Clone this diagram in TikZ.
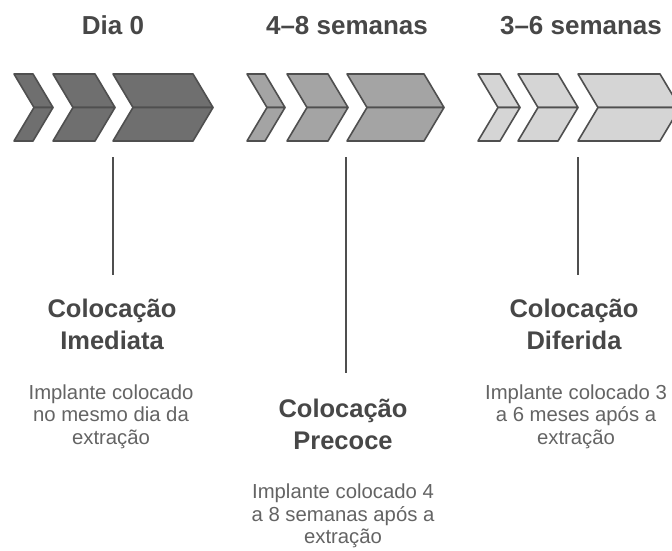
\documentclass[tikz,border=0pt]{standalone}
\usepackage{fontspec}
\setmainfont{Liberation Sans}
\definecolor{gOne}{HTML}{6F6F6F}
\definecolor{gTwo}{HTML}{A4A4A4}
\definecolor{gThree}{HTML}{D5D5D5}
\definecolor{edgec}{HTML}{4F4F4F}
\definecolor{headc}{HTML}{474747}
\definecolor{bodyc}{HTML}{646464}
\newcommand\chevronpair[3]{%
  \filldraw[chev, fill=#3] (#1,74) -- (#2,74) -- (#2+20,107.5) -- (#1+20,107.5) -- cycle;
  \filldraw[chev, fill=#3] (#1+20,107.5) -- (#2+20,107.5) -- (#2,141) -- (#1,141) -- cycle;}
\begin{document}
\begin{tikzpicture}[x=1pt,y=-1pt,
  chev/.style={draw=edgec, line width=1.6pt, line join=round},
  stem/.style={draw=edgec, line width=2pt},
  titletext/.style={anchor=base, inner sep=0pt, text=headc, font=\fontsize{26}{30}\selectfont\bfseries},
  headtext/.style={anchor=base, inner sep=0pt, text=headc, font=\fontsize{25.5}{30}\selectfont\bfseries},
  bodytext/.style={anchor=base, inner sep=0pt, text=bodyc, font=\fontsize{20.3}{24}\selectfont}]
\useasboundingbox (0,0) rectangle (672,550);
\fill[white] (0,0) rectangle (672,550);
\begin{scope}
  \clip (0,0) rectangle (672,550);
  \chevronpair{14}{33}{gOne}
  \chevronpair{53}{95}{gOne}
  \chevronpair{113}{193}{gOne}
  \chevronpair{247}{265}{gTwo}
  \chevronpair{287}{328}{gTwo}
  \chevronpair{347}{424}{gTwo}
  \chevronpair{478}{500}{gThree}
  \chevronpair{518}{558}{gThree}
  \chevronpair{578}{660}{gThree}
\end{scope}
% titles
\node[titletext] (t1) at (113,34) {Dia 0};
\node[titletext] (t2) at (347,34) {4–8 semanas};
\node[titletext] (t3) at (581,34) {3–6 semanas};
% stems
\coordinate (s1) at (113.3,157);
\coordinate (e1) at (113.3,275);
\coordinate (s2) at (345.7,157);
\coordinate (e2) at (345.7,373);
\coordinate (s3) at (578.3,157);
\coordinate (e3) at (578.3,275);
\draw[stem] (s1) -- (e1);
\draw[stem] (s2) -- (e2);
\draw[stem] (s3) -- (e3);
% left block
\node[headtext] (h1a) at (112,317) {Colocação};
\node[headtext] (h1b) at (112,349) {Imediata};
\node[bodytext] (b1a) at (111,399) {Implante colocado};
\node[bodytext] (b1b) at (111,421.5) {no mesmo dia da};
\node[bodytext] (b1c) at (111,444) {extração};
% middle block
\node[headtext] (h2a) at (343,417) {Colocação};
\node[headtext] (h2b) at (343,449) {Precoce};
\node[bodytext] (b2a) at (343,498.5) {Implante colocado 4};
\node[bodytext] (b2b) at (343,521) {a 8 semanas após a};
\node[bodytext] (b2c) at (343,543.5) {extração};
% right block
\node[headtext] (h3a) at (574,317) {Colocação};
\node[headtext] (h3b) at (574,349) {Diferida};
\node[bodytext] (b3a) at (576,399) {Implante colocado 3};
\node[bodytext] (b3b) at (576,421.5) {a 6 meses após a};
\node[bodytext] (b3c) at (576,444) {extração};
\end{tikzpicture}
\end{document}
